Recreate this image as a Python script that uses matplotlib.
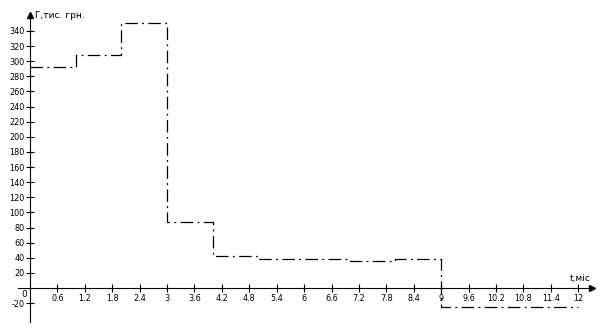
import matplotlib
matplotlib.use("Agg")
import matplotlib.pyplot as plt
import numpy as np

# step edges (months) and levels (thousand UAH)
t_edges = [0, 1, 2, 3, 4, 5, 6, 7, 8, 9, 12]
levels = [292, 308, 350, 87, 42, 38, 39, 36, 38, -25]

x_ticks = [0.6, 1.2, 1.8, 2.4, 3, 3.6, 4.2, 4.8, 5.4, 6, 6.6, 7.2, 7.8, 8.4, 9,
           9.6, 10.2, 10.8, 11.4, 12]
y_ticks = [-20, 20, 40, 60, 80, 100, 120, 140, 160, 180, 200, 220, 240, 260,
           280, 300, 320, 340]

plt.rcParams['font.family'] = ['DejaVu Sans']
fs = 6.5

fig = plt.figure(figsize=(6.07, 3.33), dpi=100)
ax = fig.add_axes([0, 0, 1, 1])
ax.set_xlim(-0.657, 12.63)
ax.set_ylim(-59.5, 381)

y = levels + [levels[-1]]
ax.step(t_edges, y, where='post', color='black', lw=0.9,
        linestyle=(0, (10, 3.5, 1.5, 3.5)))

# axes through origin
for s in ['top', 'right']:
    ax.spines[s].set_visible(False)
ax.spines['left'].set_position(('data', 0))
ax.spines['bottom'].set_position(('data', 0))
ax.spines['left'].set_bounds(-45, 361)
ax.spines['bottom'].set_bounds(-0.27, 12.3)
ax.plot([0], [361], marker='^', color='black', ms=5, clip_on=False)
ax.plot([12.3], [0], marker='>', color='black', ms=5, clip_on=False)

ax.set_xticks(x_ticks)
ax.set_xticklabels(['%g' % v for v in x_ticks])
ax.set_yticks(y_ticks)
ax.set_yticklabels(['%g' % v for v in y_ticks])
ax.tick_params(direction='inout', length=6, width=0.8, labelsize=fs, pad=1)
for lab in ax.get_xticklabels() + ax.get_yticklabels():
    lab.set_fontstretch('condensed')

ax.text(-0.07, -3, '0', fontsize=fs, ha='right', va='top')
ax.text(0.12, 361, 'Г,тис. грн.', fontsize=fs, ha='left', va='center')
ax.text(12.05, 6, 't,міс', fontsize=fs, ha='center', va='bottom')

fig.savefig('out.png', dpi=100)
